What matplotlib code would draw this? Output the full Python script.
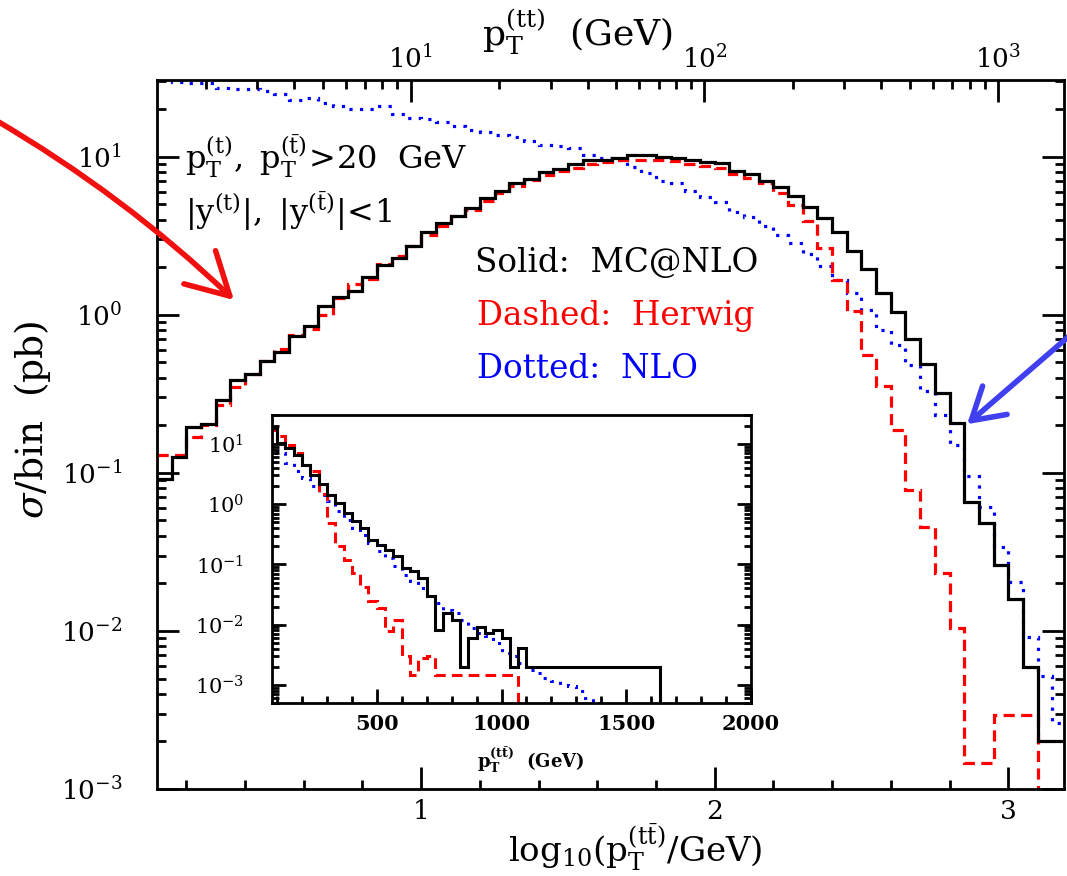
import numpy as np
import matplotlib
matplotlib.use('Agg')
import matplotlib.pyplot as plt
from matplotlib.ticker import MultipleLocator, NullFormatter
from matplotlib.patches import FancyArrowPatch

W, H = 1067, 876

# main histograms: bins of 0.05 in log10(pT/GeV)
log_edges = np.round(np.arange(0.10, 3.2001, 0.05), 2)
mcatnlo = [0.092, 0.126, 0.195, 0.205, 0.288, 0.385, 0.42, 0.507, 0.58, 0.733,
           0.856, 1.13, 1.30, 1.42, 1.73, 2.07, 2.28, 2.71, 3.34, 3.79,
           4.24, 4.74, 5.48, 6.04, 6.82, 7.23, 7.96, 8.36, 9.0, 9.53,
           9.53, 9.76, 10.25, 10.3, 10.0, 9.81, 9.57, 9.32, 9.1, 8.16,
           7.78, 7.0, 6.4, 5.67, 4.79, 4.08, 3.32, 2.55, 1.95, 1.37,
           1.04, 0.705, 0.49, 0.32, 0.207, 0.0655, 0.048, 0.026, 0.0159, 0.00594,
           0.002, 0.002]
herwig = [0.13, 0.13, 0.169, 0.20, 0.267, 0.349, 0.424, 0.507, 0.61, 0.748,
          0.816, 1.0, 1.27, 1.57, 1.69, 2.1, 2.37, 2.74, 3.18, 3.66,
          4.24, 4.6, 5.27, 5.86, 6.49, 7.13, 7.7, 8.16, 8.49, 9.0,
          9.2, 9.53, 9.53, 9.53, 9.5, 9.34, 9.0, 8.8, 8.5, 7.78,
          7.33, 6.78, 5.87, 4.98, 3.94, 2.64, 1.67, 1.05, 0.56, 0.353,
          0.186, 0.0785, 0.0455, 0.0234, 0.0104, 0.00147, 0.00147, 0.00294, 0.00294, 0.00294,
          0.0, 0.0]
nlo = [34.0, 29.8, 29.5, 29.2, 27.4, 26.8, 26.8, 26.1, 24.9, 22.8,
       23.7, 22.0, 21.0, 20.0, 20.0, 21.0, 18.6, 17.5, 17.4, 16.6,
       15.7, 14.8, 14.4, 13.8, 13.3, 12.6, 11.9, 11.7, 11.4, 10.3,
       9.8, 9.5, 8.56, 7.85, 7.05, 6.78, 6.1, 5.6, 5.14, 4.45,
       4.18, 3.66, 3.22, 2.83, 2.43, 2.05, 1.67, 1.37, 1.08, 0.80,
       0.64, 0.478, 0.329, 0.231, 0.151, 0.095, 0.061, 0.034, 0.0205, 0.0092,
       0.0052, 0.0026]

# inset histograms: bins of 100/3 GeV, starting at 200/3 GeV
pt_edges = np.arange(2, 61) * 100.0 / 3
inset_mcatnlo = [18.5, 10.4, 8.6, 6.6, 4.5, 3.1, 2.2, 1.44, 1.04, 0.71,
                 0.52, 0.40, 0.257, 0.207, 0.175, 0.136, 0.087, 0.0766, 0.0593, 0.0294,
                 0.0082, 0.0155, 0.012, 0.002, 0.006, 0.0093, 0.0072, 0.0082, 0.006, 0.002,
                 0.0041] + [0.002] * 16 + [0.0] * 11
inset_herwig = [17.3, 13.8, 9.75, 7.09, 4.54, 3.52, 1.5, 0.486, 0.2, 0.12,
                0.072, 0.043, 0.0243, 0.0188, 0.0077, 0.012, 0.00296, 0.00147, 0.00277, 0.00296] \
               + [0.00147] * 10 + [0.0] * 28
inset_nlo = [8.59, 7.08, 4.83, 3.51, 2.72, 1.98, 1.44, 1.11, 0.76, 0.552,
             0.402, 0.311, 0.226, 0.164, 0.127, 0.0927, 0.0673, 0.0521, 0.0404, 0.0294,
             0.0228, 0.0177, 0.0155, 0.0120, 0.00875, 0.00722, 0.00636, 0.00493, 0.00336, 0.00296,
             0.00229, 0.00177, 0.00156, 0.00129, 0.00114, 0.001, 0.00094, 0.00078, 0.0006, 0.0005,
             0.00042, 0.00035, 0.0003, 0.00025, 0.0002, 0.00017, 0.00014, 0.00012, 0.0001, 0.00008,
             0.00007, 0.00006, 0.00005, 0.00004, 0.00003, 0.00003, 0.00002, 0.00002]

plt.rcParams['font.family'] = 'DejaVu Serif'
plt.rcParams['mathtext.fontset'] = 'dejavuserif'

fig = plt.figure(figsize=(W / 100, H / 100), dpi=100)


def fx(x):
    return x / W


def fy(y):
    return 1 - y / H


RED = '#ff0000'
BLUE = '#0000ff'
dash = (0, (3.5, 2))
dot = (0, (1, 2.3))

# main plot
ax = fig.add_axes([fx(157), fy(789), fx(1064) - fx(157), fy(80) - fy(789)])
ax.stairs(nlo, log_edges, color=BLUE, lw=2.3, ls=dot, baseline=None)
ax.stairs(herwig, log_edges, color=RED, lw=2.3, ls=dash, baseline=None)
ax.stairs(mcatnlo, log_edges, color='black', lw=2.3, baseline=None)
ax.set_xlim(0.1, 3.19)
ax.set_yscale('log')
ax.set_ylim(1e-3, 30.6)
ax.xaxis.set_major_locator(MultipleLocator(1))
ax.xaxis.set_minor_locator(MultipleLocator(0.2))
ax.tick_params(which='both', direction='in', top=False, right=True, width=2)
ax.tick_params(which='major', length=16, labelsize=19)
ax.tick_params(which='minor', length=6.5)
ax.tick_params(axis='y', which='major', pad=25)
ax.tick_params(axis='x', which='major', pad=7)
for s in ax.spines.values():
    s.set_linewidth(2)

top = ax.twiny()
top.set_xscale('log')
top.set_xlim(10 ** (0.1 + 0.035), 10 ** (3.19 + 0.035))
top.xaxis.set_minor_formatter(NullFormatter())
top.tick_params(which='both', direction='in', top=True, bottom=False, width=2)
top.tick_params(which='major', length=16, labelsize=19, pad=5)
top.tick_params(which='minor', length=6.5)

# inset
axin = fig.add_axes([fx(272), fy(703), fx(751) - fx(272), fy(415) - fy(703)])
axin.stairs(inset_nlo, pt_edges, color=BLUE, lw=2.2, ls=dot, baseline=None)
axin.stairs(inset_herwig, pt_edges, color=RED, lw=2.2, ls=dash, baseline=None)
axin.stairs(inset_mcatnlo, pt_edges, color='black', lw=2.2, baseline=None)
axin.set_xlim(80, 2000)
axin.set_yscale('log')
axin.set_ylim(5e-4, 30.3)
axin.xaxis.set_major_locator(MultipleLocator(500))
axin.xaxis.set_minor_locator(MultipleLocator(100))
axin.tick_params(which='both', direction='in', top=False, right=True, width=2)
axin.tick_params(which='major', length=10, labelsize=15)
axin.tick_params(which='minor', length=5)
axin.tick_params(axis='y', which='major', pad=20)
axin.tick_params(axis='x', which='major', pad=8)
for lab in axin.get_xticklabels():
    lab.set_fontweight('bold')
for s in axin.spines.values():
    s.set_linewidth(2)

# labels
fig.text(fx(578), fy(32), r'$\mathrm{p_T^{(tt)}}$  (GeV)', ha='center', va='center', fontsize=26)
fig.text(fx(635), fy(847), r'$\mathrm{log_{10}(p_T^{(t\bar{t})}/GeV)}$', ha='center', va='center', fontsize=24.5)
fig.text(fx(33), fy(420), r'$\sigma$/bin  (pb)', ha='center', va='center', rotation=90, fontsize=27)
fig.text(fx(531), fy(760), r'$\mathbf{p_T^{(t\bar{t})}}$  (GeV)', ha='center', va='center',
         fontsize=13, fontweight='bold')

fig.text(fx(185), fy(170), r'$\mathrm{p_T^{(t)},\ p_T^{(\bar{t})}\!>\!20\ \ GeV}$', ha='left',
         va='baseline', fontsize=23)
fig.text(fx(185), fy(223), r'$\mathrm{|y^{(t)}|,\ |y^{(\bar{t})}|\!<\!1}$', ha='left',
         va='baseline', fontsize=23)

fig.text(fx(475), fy(272), 'Solid:  MC@NLO', color='black', ha='left', va='baseline', fontsize=23.5)
fig.text(fx(477), fy(325), 'Dashed:  Herwig', color=RED, ha='left', va='baseline', fontsize=23.5)
fig.text(fx(477), fy(378), 'Dotted:  NLO', color=BLUE, ha='left', va='baseline', fontsize=23.5)

# arrows
red_arrow = FancyArrowPatch((fx(-8), fy(118)), (fx(236), fy(302)), transform=fig.transFigure,
                            arrowstyle='->,head_length=1.0,head_width=0.55', mutation_scale=30,
                            connectionstyle='arc3,rad=-0.06', color='#f01010', lw=4)
blue_arrow = FancyArrowPatch((fx(1075), fy(331)), (fx(965), fy(426)), transform=fig.transFigure,
                             arrowstyle='->,head_length=0.75,head_width=0.45', mutation_scale=30,
                             color='#4040f0', lw=4)
fig.patches.extend([red_arrow, blue_arrow])

fig.savefig('out.png', dpi=100)
